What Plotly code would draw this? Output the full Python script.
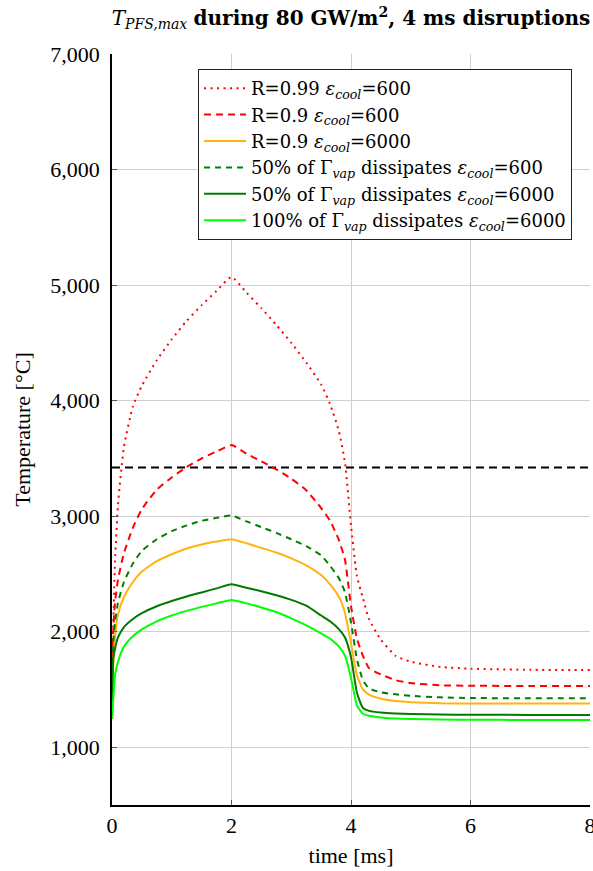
import plotly.graph_objects as go

time_ms = [0, 0.02, 0.05, 0.1, 0.2, 0.35, 0.5, 0.75, 1.0, 1.25, 1.5, 1.75, 2.0,
           2.25, 2.5, 2.75, 3.0, 3.25, 3.5, 3.65, 3.8, 3.9, 4.0, 4.1, 4.2, 4.3,
           4.5, 4.75, 5.0, 5.5, 6.0, 7.0, 8.0]

r099_e600 = [1250, 2000, 2600, 3100, 3600, 3950, 4130, 4350, 4530, 4690, 4825, 4950, 5070,
             4935, 4800, 4655, 4500, 4330, 4140, 3970, 3730, 3460, 2920, 2480, 2290, 2110,
             1930, 1790, 1740, 1695, 1680, 1670, 1668]
r09_e600 = [1250, 2000, 2250, 2450, 2680, 2900, 3060, 3230, 3335, 3425, 3500, 3560, 3615,
            3540, 3475, 3405, 3325, 3225, 3070, 2960, 2790, 2620, 2220, 1940, 1790, 1685,
            1630, 1580, 1555, 1536, 1532, 1530, 1530]
r09_e6000 = [1250, 1700, 1950, 2150, 2300, 2430, 2520, 2610, 2670, 2720, 2755, 2780, 2800,
             2765, 2725, 2685, 2635, 2575, 2490, 2410, 2300, 2160, 1900, 1620, 1500, 1455,
             1420, 1400, 1390, 1380, 1378, 1378, 1378]
g50_e600 = [1250, 1900, 2080, 2250, 2430, 2590, 2700, 2800, 2870, 2920, 2960, 2985, 3005,
            2955, 2905, 2855, 2800, 2740, 2660, 2570, 2460, 2340, 2080, 1760, 1580, 1510,
            1475, 1458, 1445, 1432, 1426, 1424, 1424]
g50_e6000 = [1250, 1760, 1850, 1950, 2040, 2110, 2160, 2220, 2265, 2305, 2340, 2375, 2410,
             2380, 2350, 2315, 2275, 2225, 2140, 2090, 2020, 1950, 1780, 1470, 1340, 1315,
             1300, 1292, 1288, 1283, 1281, 1280, 1280]
g100_e6000 = [1250, 1400, 1620, 1740, 1870, 1960, 2020, 2090, 2140, 2180, 2215, 2245, 2275,
              2245, 2210, 2170, 2115, 2055, 1985, 1940, 1870, 1790, 1600, 1360, 1290, 1272,
              1258, 1248, 1244, 1240, 1238, 1236, 1236]

melt_x = [0, 8]
melt_T = [3422, 3422]

y_ticks = [1000, 2000, 3000, 4000, 5000, 6000, 7000]
y_tick_labels = ["1,000", "2,000", "3,000", "4,000", "5,000", "6,000", "7,000"]
x_ticks = [0, 2, 4, 6, 8]

series = [
    ("R=0.99 <i>ε</i><sub><i>cool</i></sub>=600", r099_e600, "#ff0000", "2px,4.5px"),
    ("R=0.9 <i>ε</i><sub><i>cool</i></sub>=600", r09_e600, "#ff0000", "7px,5px"),
    ("R=0.9 <i>ε</i><sub><i>cool</i></sub>=6000", r09_e6000, "#ffb30f", "solid"),
    ("50% of Γ<sub><i>vap</i></sub> dissipates <i>ε</i><sub><i>cool</i></sub>=600", g50_e600, "#008000", "6px,5px"),
    ("50% of Γ<sub><i>vap</i></sub> dissipates <i>ε</i><sub><i>cool</i></sub>=6000", g50_e6000, "#007a00", "solid"),
    ("100% of Γ<sub><i>vap</i></sub> dissipates <i>ε</i><sub><i>cool</i></sub>=6000", g100_e6000, "#00ff00", "solid"),
]

fig = go.Figure()
fig.add_trace(go.Scatter(x=melt_x, y=melt_T, mode="lines", showlegend=False,
                         line=dict(color="black", width=2, dash="8px,5px")))
for name, vals, color, dash in series:
    fig.add_trace(go.Scatter(x=time_ms, y=vals, mode="lines", name=name,
                             line=dict(color=color, width=2, dash=dash, shape="spline", smoothing=0.5)))

font = "Liberation Serif"
wide = "DejaVu Serif"
fig.update_layout(
    width=593, height=871,
    margin=dict(l=112, r=3, t=54, b=66),
    plot_bgcolor="white", paper_bgcolor="white",
    font=dict(family=font, size=22, color="black"),
    title=dict(text="<i>T</i><sub><i>PFS,max</i></sub> <b>during 80 GW/m<sup>2</sup>, 4 ms disruptions</b>",
               x=0.5, xref="paper", xanchor="center", y=0.979, yanchor="middle",
               font=dict(family=wide, size=20)),
    legend=dict(x=0.18, y=0.98, xanchor="left", yanchor="top",
                bgcolor="white", bordercolor="#222222", borderwidth=1,
                font=dict(family=wide, size=18), tracegroupgap=0, itemwidth=42),
    xaxis=dict(range=[0, 8], tickvals=x_ticks, showgrid=True, gridcolor="#d0d0d0", gridwidth=1,
               showline=True, linecolor="black", linewidth=1.5, ticks="inside", ticklen=5,
               tickcolor="#555555", zeroline=False, ticklabeloverflow="allow", automargin=False,
               title=dict(text="time [ms]", font=dict(size=22), standoff=10)),
    yaxis=dict(range=[500, 7000], tickvals=y_ticks, ticktext=y_tick_labels, showgrid=True,
               gridcolor="#d0d0d0", gridwidth=1, showline=True, linecolor="black", linewidth=1.5,
               ticks="inside", ticklen=5, tickcolor="#555555", zeroline=False,
               ticklabelstandoff=6, automargin=False,
               title=dict(text="Temperature [°C]", font=dict(size=22), standoff=14)),
)
fig.write_html("out.html")
